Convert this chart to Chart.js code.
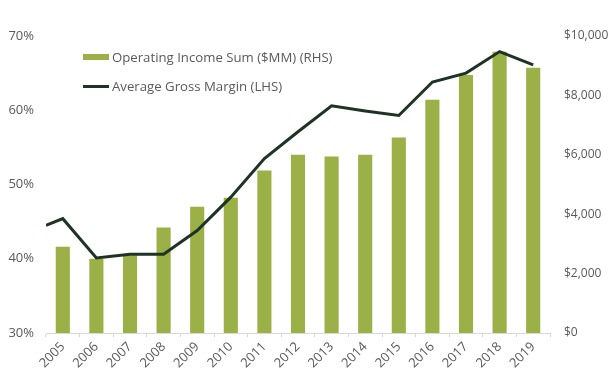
<!DOCTYPE html>
<html>
<head>
<meta charset="utf-8">
<script src="https://cdn.jsdelivr.net/npm/chart.js@4/dist/chart.umd.min.js"></script>
<style>
  html, body { margin: 0; padding: 0; background: #fff; }
  #wrap { position: relative; width: 613px; height: 388px; }
  #legend { position: absolute; left: 83px; top: 48px; font-family: "Open Sans", sans-serif; font-size: 13.2px; color: #595959; }
  .item { position: absolute; left: 0; white-space: nowrap; height: 18px; line-height: 18px; }
  .sw { position: absolute; left: 0; width: 26px; }
  .lbl { position: absolute; left: 29px; top: 0; }
</style>
</head>
<body>
<div id="wrap">
  <canvas id="c" width="613" height="388"></canvas>
  <div id="legend">
    <div class="item" style="top:0"><span class="sw" style="top:6px;height:6px;background:#9bb046"></span><span class="lbl">Operating Income Sum ($MM) (RHS)</span></div>
    <div class="item" style="top:29px"><span class="sw" style="top:8px;height:3px;background:#1f3324"></span><span class="lbl">Average Gross Margin (LHS)</span></div>
  </div>
</div>
<script>
const years = ["2005","2006","2007","2008","2009","2010","2011","2012","2013","2014","2015","2016","2017","2018","2019"];
const operatingIncome = [2900, 2500, 2620, 3550, 4250, 4550, 5470, 6000, 5940, 6000, 6580, 7850, 8690, 9470, 8930];
const marginLead = 44.5; // value at the left edge of the plot, before 2005
const grossMargin = [45.4, 40.1, 40.6, 40.6, 43.8, 48.3, 53.5, 57.1, 60.6, 59.9, 59.3, 63.8, 65.0, 67.9, 66.1];
const leftTicks = [30, 40, 50, 60, 70];
const rightTicks = [0, 2000, 4000, 6000, 8000, 10000];

const barColor = '#9bb046';
const lineColor = '#1f3324';
const textColor = '#595959';
const fam = '"Open Sans", sans-serif';

const linePoints = [{ x: -0.5, y: marginLead }].concat(grossMargin.map((v, i) => ({ x: i, y: v })));

new Chart(document.getElementById('c'), {
  type: 'bar',
  data: {
    labels: years,
    datasets: [
      {
        type: 'line', label: 'Average Gross Margin (LHS)', data: linePoints,
        xAxisID: 'xl', yAxisID: 'y', borderColor: lineColor, borderWidth: 3,
        pointRadius: 0, tension: 0, order: 0
      },
      {
        type: 'bar', label: 'Operating Income Sum ($MM) (RHS)', data: operatingIncome,
        xAxisID: 'x', yAxisID: 'y2', backgroundColor: barColor, grouped: false,
        barPercentage: 0.42, categoryPercentage: 1, order: 1
      }
    ]
  },
  options: {
    responsive: false, animation: false,
    layout: { padding: { top: 36, left: 0, right: 0, bottom: 0 } },
    plugins: { legend: { display: false }, tooltip: { enabled: false } },
    scales: {
      x: {
        type: 'category', position: 'bottom', offset: true,
        grid: { display: true, offset: true, drawOnChartArea: false, drawTicks: true, tickLength: 4, color: '#d9d9d9' },
        border: { display: true, color: '#d9d9d9' },
        ticks: { color: textColor, font: { family: fam, size: 13 }, minRotation: 45, maxRotation: 45, padding: 2, autoSkip: false },
        afterFit: s => { s.height = 55; }
      },
      xl: {
        type: 'linear', display: false, min: -0.5, max: years.length - 0.5, offset: false
      },
      y: {
        position: 'left', min: leftTicks[0], max: leftTicks[leftTicks.length - 1],
        grid: { display: false, drawTicks: false }, border: { display: false },
        afterBuildTicks: s => { s.ticks = leftTicks.map(v => ({ value: v })); },
        ticks: { color: textColor, font: { family: fam, size: 13 }, padding: 12, callback: v => v + '%' },
        afterFit: s => { s.width = 46; }
      },
      y2: {
        position: 'right', min: rightTicks[0], max: rightTicks[rightTicks.length - 1],
        grid: { display: false, drawTicks: false }, border: { display: false },
        afterBuildTicks: s => { s.ticks = rightTicks.map(v => ({ value: v })); },
        ticks: { color: textColor, font: { family: fam, size: 12 }, padding: 14, callback: v => '$' + v.toLocaleString('en-US') },
        afterFit: s => { s.width = 63; }
      }
    }
  }
});
</script>
</body>
</html>
